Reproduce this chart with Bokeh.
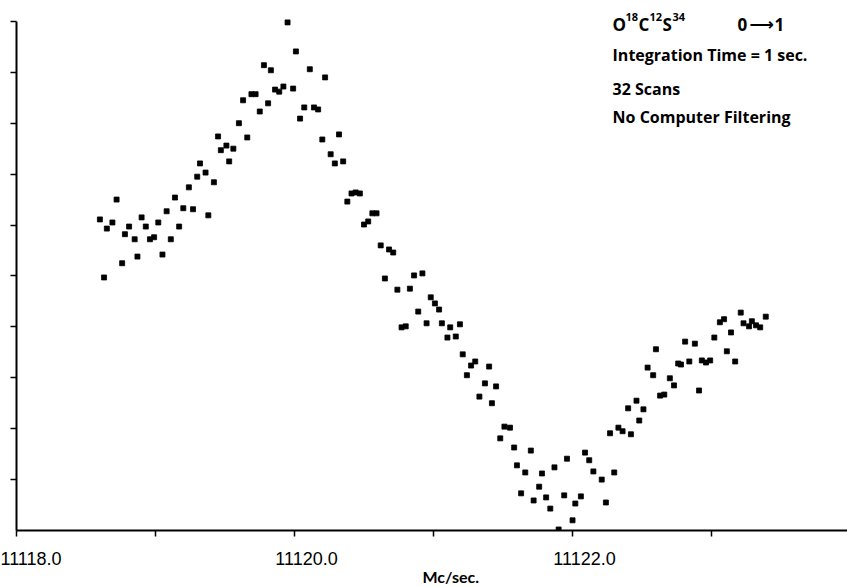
from bokeh.plotting import figure
from bokeh.models import Label, FixedTicker, Range1d, LinearAxis, Title
from bokeh.embed import file_html
from bokeh.resources import INLINE

# frequency (Mc/sec) and relative intensity (arbitrary units, 0-10)
freq = [
    11118.60, 11118.63, 11118.65, 11118.69, 11118.72, 11118.76, 11118.78, 11118.81, 11118.85, 11118.87,
    11118.90, 11118.93, 11118.96, 11118.99, 11119.02, 11119.05, 11119.08, 11119.11, 11119.14, 11119.17,
    11119.20, 11119.24, 11119.27, 11119.30, 11119.32, 11119.36, 11119.38, 11119.42, 11119.45, 11119.47,
    11119.51, 11119.53, 11119.56, 11119.60, 11119.63, 11119.66, 11119.69, 11119.72, 11119.75, 11119.78,
    11119.81, 11119.83, 11119.86, 11119.89, 11119.92, 11119.95, 11119.99, 11120.01, 11120.04, 11120.07,
    11120.11, 11120.14, 11120.17, 11120.20, 11120.22, 11120.26, 11120.29, 11120.32, 11120.35, 11120.38,
    11120.41, 11120.44, 11120.47, 11120.50, 11120.53, 11120.56, 11120.59, 11120.62, 11120.65, 11120.68,
    11120.71, 11120.74, 11120.77, 11120.80, 11120.83, 11120.86, 11120.89, 11120.92, 11120.95, 11120.98,
    11121.01, 11121.04, 11121.06, 11121.10, 11121.12, 11121.16, 11121.19, 11121.21, 11121.24, 11121.27,
    11121.30, 11121.33, 11121.37, 11121.40, 11121.42, 11121.45, 11121.48, 11121.51, 11121.55, 11121.58,
    11121.60, 11121.63, 11121.66, 11121.70, 11121.72, 11121.76, 11121.78, 11121.81, 11121.84, 11121.87,
    11121.90, 11121.94, 11121.96, 11122.00, 11122.02, 11122.06, 11122.09, 11122.12, 11122.15, 11122.21,
    11122.24, 11122.27, 11122.30, 11122.33, 11122.36, 11122.40, 11122.42, 11122.46, 11122.48, 11122.51,
    11122.54, 11122.58, 11122.60, 11122.63, 11122.66, 11122.70, 11122.73, 11122.76, 11122.78, 11122.81,
    11122.84, 11122.88, 11122.91, 11122.93, 11122.96, 11122.99, 11123.02, 11123.06, 11123.09, 11123.11,
    11123.14, 11123.17, 11123.21, 11123.23, 11123.27, 11123.29, 11123.32, 11123.35, 11123.39,
]
intensity = [
    6.11, 4.97, 5.93, 6.05, 6.50, 5.25, 5.82, 5.97, 5.72, 5.38,
    6.15, 5.97, 5.72, 5.76, 6.05, 5.42, 6.27, 5.72, 6.54, 5.97,
    6.33, 6.74, 6.31, 6.95, 7.21, 7.03, 6.19, 6.84, 7.74, 7.47,
    7.56, 7.25, 7.50, 8.00, 8.45, 7.72, 8.57, 8.57, 8.23, 9.14,
    8.39, 9.04, 8.66, 8.62, 8.72, 9.98, 8.68, 9.41, 8.09, 8.31,
    9.06, 8.31, 8.27, 7.68, 8.90, 7.39, 7.21, 7.78, 7.25, 6.46,
    6.62, 6.64, 6.62, 6.01, 6.07, 6.23, 6.23, 5.60, 4.95, 5.52,
    5.46, 4.73, 3.99, 4.01, 4.75, 5.01, 4.30, 5.05, 4.07, 4.58,
    4.46, 4.34, 4.07, 3.79, 3.99, 3.81, 4.05, 3.46, 3.05, 3.24,
    3.32, 2.63, 2.89, 3.22, 2.50, 2.83, 1.81, 2.04, 2.02, 1.63,
    1.28, 0.73, 1.14, 1.57, 0.59, 0.86, 1.12, 0.65, 0.43, 1.24,
    0.02, 0.69, 1.41, 0.20, 0.53, 0.67, 1.53, 1.38, 1.16, 1.00,
    0.55, 1.91, 1.14, 2.02, 1.95, 2.40, 1.89, 2.55, 2.16, 2.38,
    3.20, 3.05, 3.56, 2.65, 2.67, 2.99, 2.85, 3.28, 3.26, 3.71,
    3.32, 3.67, 2.75, 3.34, 3.30, 3.34, 3.79, 4.09, 4.15, 3.52,
    3.89, 3.32, 4.28, 4.07, 4.01, 4.11, 4.03, 3.99, 4.20,
]

x_ticks = [11118, 11119, 11120, 11121, 11122, 11123]
x_label_ticks = [11118, 11120, 11122]
x_tick_labels = ["11118.0", "11120.0", "11122.0"]
y_ticks = [1, 2, 3, 4, 5, 6, 7, 8, 9, 10]

x_title = "Mc/sec."
notes = ["Integration  Time = 1 sec.", "32 Scans", "No Computer Filtering"]

X0, X1 = 11118.0, 11123.978
Y0, Y1 = 0.0, 10.41
p = figure(width=847, height=587, output_backend="svg", toolbar_location=None,
           x_range=Range1d(X0, X1), y_range=Range1d(Y0, Y1),
           min_border_left=16, min_border_right=0, min_border_top=0, min_border_bottom=57)
p.outline_line_color = None
p.grid.visible = False
p.background_fill_color = "white"
p.border_fill_color = "white"

p.scatter(freq, intensity, marker="square", size=5, fill_color="black",
          line_color="black", line_width=0.8)

for ax in (p.xaxis[0], p.yaxis[0]):
    ax.axis_line_width = 2
    ax.axis_line_color = "black"
    ax.major_tick_line_width = 1.5
    ax.major_tick_line_color = "black"
    ax.major_tick_in = 0
    ax.major_tick_out = 6
    ax.minor_tick_line_color = None
    ax.major_label_text_color = None
    ax.major_label_text_font_size = "1px"
    ax.major_label_standoff = 0
    ax.axis_label_standoff = 0

p.xaxis[0].ticker = FixedTicker(ticks=x_ticks)
p.yaxis[0].ticker = FixedTicker(ticks=y_ticks)
p.yaxis[0].bounds = (0, 10)

# second x axis that carries only the tick labels, set slightly right of the ticks
shift = 12.0 * (X1 - X0) / 831.0
p.extra_x_ranges = {"lab": Range1d(X0 - shift, X1 - shift)}
lab_axis = LinearAxis(x_range_name="lab", ticker=FixedTicker(ticks=x_label_ticks),
                      major_label_overrides={t: s for t, s in zip(x_label_ticks, x_tick_labels)})
lab_axis.axis_line_color = None
lab_axis.major_tick_line_color = None
lab_axis.minor_tick_line_color = None
lab_axis.major_tick_out = 0
lab_axis.major_tick_in = 0
lab_axis.major_label_standoff = 15
lab_axis.major_label_text_font = "Liberation Sans"
lab_axis.major_label_text_font_size = "18px"
lab_axis.major_label_text_color = "black"
p.add_layout(lab_axis, "below")

p.add_layout(Title(text=x_title, align="left", offset=406, standoff=-5,
                   text_font="Lato", text_font_style="bold", text_font_size="16px",
                   text_color="black"), "below")

# molecule / transition line with superscripts
ax0 = 11122.288
title_parts = [("O", 0, False, "Open Sans"), ("18", 13, True, "Open Sans"),
               ("C", 26, False, "Open Sans"), ("12", 37, True, "Open Sans"),
               ("S", 50, False, "Open Sans"), ("34", 60, True, "Open Sans"),
               ("0", 125, False, "Open Sans"), ("\u27f6", 137, False, "DejaVu Sans"),
               ("1", 162, False, "Open Sans")]
for txt, dx, sup, fnt in title_parts:
    p.add_layout(Label(x=ax0, y=10.08 if sup else 9.94, x_offset=dx, text=txt,
                       text_align="left", text_baseline="alphabetic", text_font=fnt,
                       text_font_style="bold", text_font_size="11px" if sup else "17px",
                       text_color="black"))

for yv, txt in zip([9.34, 8.68, 8.13], notes):
    p.add_layout(Label(x=ax0, y=yv, text=txt, text_align="left", text_baseline="alphabetic",
                       text_font="Open Sans", text_font_style="bold", text_font_size="16px",
                       text_color="black"))

open("out.html", "w").write(file_html(p, INLINE))
